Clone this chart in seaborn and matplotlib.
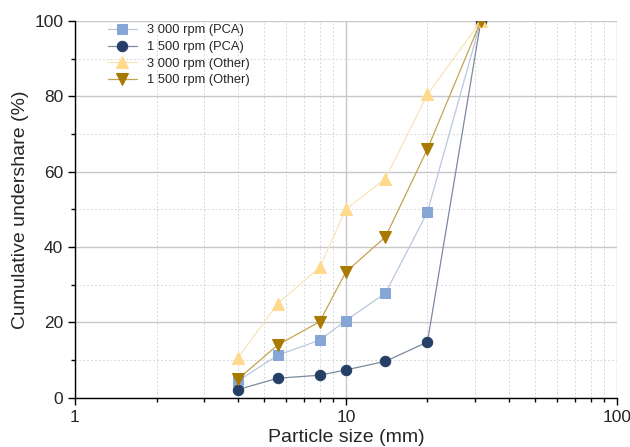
import numpy as np
import pandas as pd
import matplotlib
matplotlib.use("Agg")
import matplotlib.pyplot as plt
from matplotlib.ticker import LogLocator, MultipleLocator, NullFormatter
import seaborn as sns

# sieve sizes (mm)
sizes = [4, 5.6, 8, 10, 14, 20, 31.5]

# cumulative undershare (%)
pca_3000 = [4.5, 11.3, 15.3, 20.5, 27.8, 49.3, 100]
pca_1500 = [2.2, 5.2, 6.0, 7.4, 9.7, 14.8, 100]
other_3000 = [10.6, 25.0, 34.6, 50.0, 58.2, 80.5, 100]
other_1500 = [5.0, 14.0, 20.2, 33.4, 42.7, 66.0, 100]

labels = ["3 000 rpm (PCA)", "1 500 rpm (PCA)", "3 000 rpm (Other)", "1 500 rpm (Other)"]
series = [pca_3000, pca_1500, other_3000, other_1500]

sns.set_style("white")
plt.rcParams['font.family'] = ['Liberation Sans', 'DejaVu Sans']

fig = plt.figure(figsize=(6.3, 4.47), dpi=100)
ax = fig.add_axes([0.119, 0.11, 0.86, 0.843])

# marker colour, line colour, marker shape, marker size
styles = [
    ("#86a6d6", "#b9c8de", "s", 6.5),
    ("#263f66", "#7d8aa0", "o", 7.5),
    ("#ffd98c", "#f7e6b8", "^", 8),
    ("#a87a00", "#c4a451", "v", 8),
]

for lab, vals, (mc, lc, mk, ms) in zip(labels, series, styles):
    df = pd.DataFrame({"size": sizes, "share": vals})
    sns.lineplot(data=df, x="size", y="share", ax=ax, label=lab,
                 color=lc, linewidth=0.9, marker=mk, markersize=ms,
                 markerfacecolor=mc, markeredgecolor=mc)

ax.set_xscale("log")
ax.set_xlim(1, 100)
ax.set_ylim(0, 100)
ax.set_xticks([1, 10, 100])
ax.set_xticklabels(["1", "10", "100"])
ax.xaxis.set_minor_locator(LogLocator(base=10, subs=np.arange(2, 10)))
ax.xaxis.set_minor_formatter(NullFormatter())
ax.yaxis.set_major_locator(MultipleLocator(20))
ax.yaxis.set_minor_locator(MultipleLocator(10))

ax.grid(which="major", color="#c8c8c8", linestyle="-", linewidth=1.0)
ax.grid(which="minor", color="#d8d8d8", linestyle=(0, (2, 2)), linewidth=0.7)
ax.set_axisbelow(True)

for side in ["top", "right"]:
    ax.spines[side].set_visible(False)
for side in ["left", "bottom"]:
    ax.spines[side].set_color("black")
    ax.spines[side].set_linewidth(1.0)

ax.tick_params(which="major", direction="out", length=5, width=1, color="black",
               labelsize=12.5, left=True, bottom=True)
ax.tick_params(which="minor", direction="out", length=3, width=1, color="black",
               left=True, bottom=True)

ax.set_xlabel("Particle size (mm)", fontsize=14, labelpad=3)
ax.set_ylabel("Cumulative undershare (%)", fontsize=14, labelpad=4)

ax.legend(loc="upper left", frameon=False, fontsize=9.3, bbox_to_anchor=(0.04, 1.022),
          handlelength=2.2, labelspacing=0.36)

fig.savefig("out.png", dpi=100)
